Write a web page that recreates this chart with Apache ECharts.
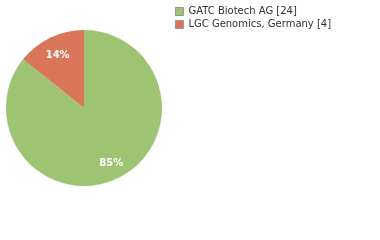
<!DOCTYPE html>
<html><head><meta charset="utf-8">
<script src="https://cdn.jsdelivr.net/npm/echarts@6/dist/echarts.min.js"></script>
<style>html,body{margin:0;padding:0;background:#fff}#c{width:380px;height:240px}</style>
</head><body><div id="c"></div>
<script>
const categories = ['GATC Biotech AG [24]', 'LGC Genomics, Germany [4]'];
const values = [24, 4];
const colors = ['#9dc373', '#d9765a'];

const chart = echarts.init(document.getElementById('c'), null, {renderer: 'canvas'});
const labelOffsets = [[0, -1], [1, 4]];
const data = categories.map((n, i) => ({name: n, value: values[i]}));
const labelData = categories.map((n, i) => ({name: n, value: values[i], label: {offset: labelOffsets[i]}}));
chart.setOption({
  animation: false,
  color: colors,
  legend: {
    orient: 'vertical', left: 175, top: 5, padding: 0,
    itemWidth: 8, itemHeight: 8, itemGap: 0,
    icon: 'rect',
    itemStyle: {borderColor: '#888', borderWidth: 0.8},
    textStyle: {fontFamily: 'DejaVu Sans', fontSize: 10, lineHeight: 13, color: '#333'},
    data: categories
  },
  series: [
    {
      type: 'pie', center: [84, 108], radius: [0, 78],
      startAngle: 90, clockwise: true,
      label: {show: false}, labelLine: {show: false},
      itemStyle: {borderWidth: 0},
      emphasis: {disabled: true},
      data: data
    },
    {
      type: 'pie', center: [84, 108], radius: [40, 80],
      startAngle: 90, clockwise: true, silent: true,
      itemStyle: {color: 'rgba(0,0,0,0)', borderWidth: 0},
      label: {
        show: true, position: 'inside', color: '#fff',
        fontFamily: 'DejaVu Sans', fontSize: 10, fontWeight: 'bold',
        formatter: p => Math.floor(p.percent) + '%'
      },
      labelLine: {show: false},
      emphasis: {disabled: true},
      data: labelData
    }
  ]
});
</script></body></html>
